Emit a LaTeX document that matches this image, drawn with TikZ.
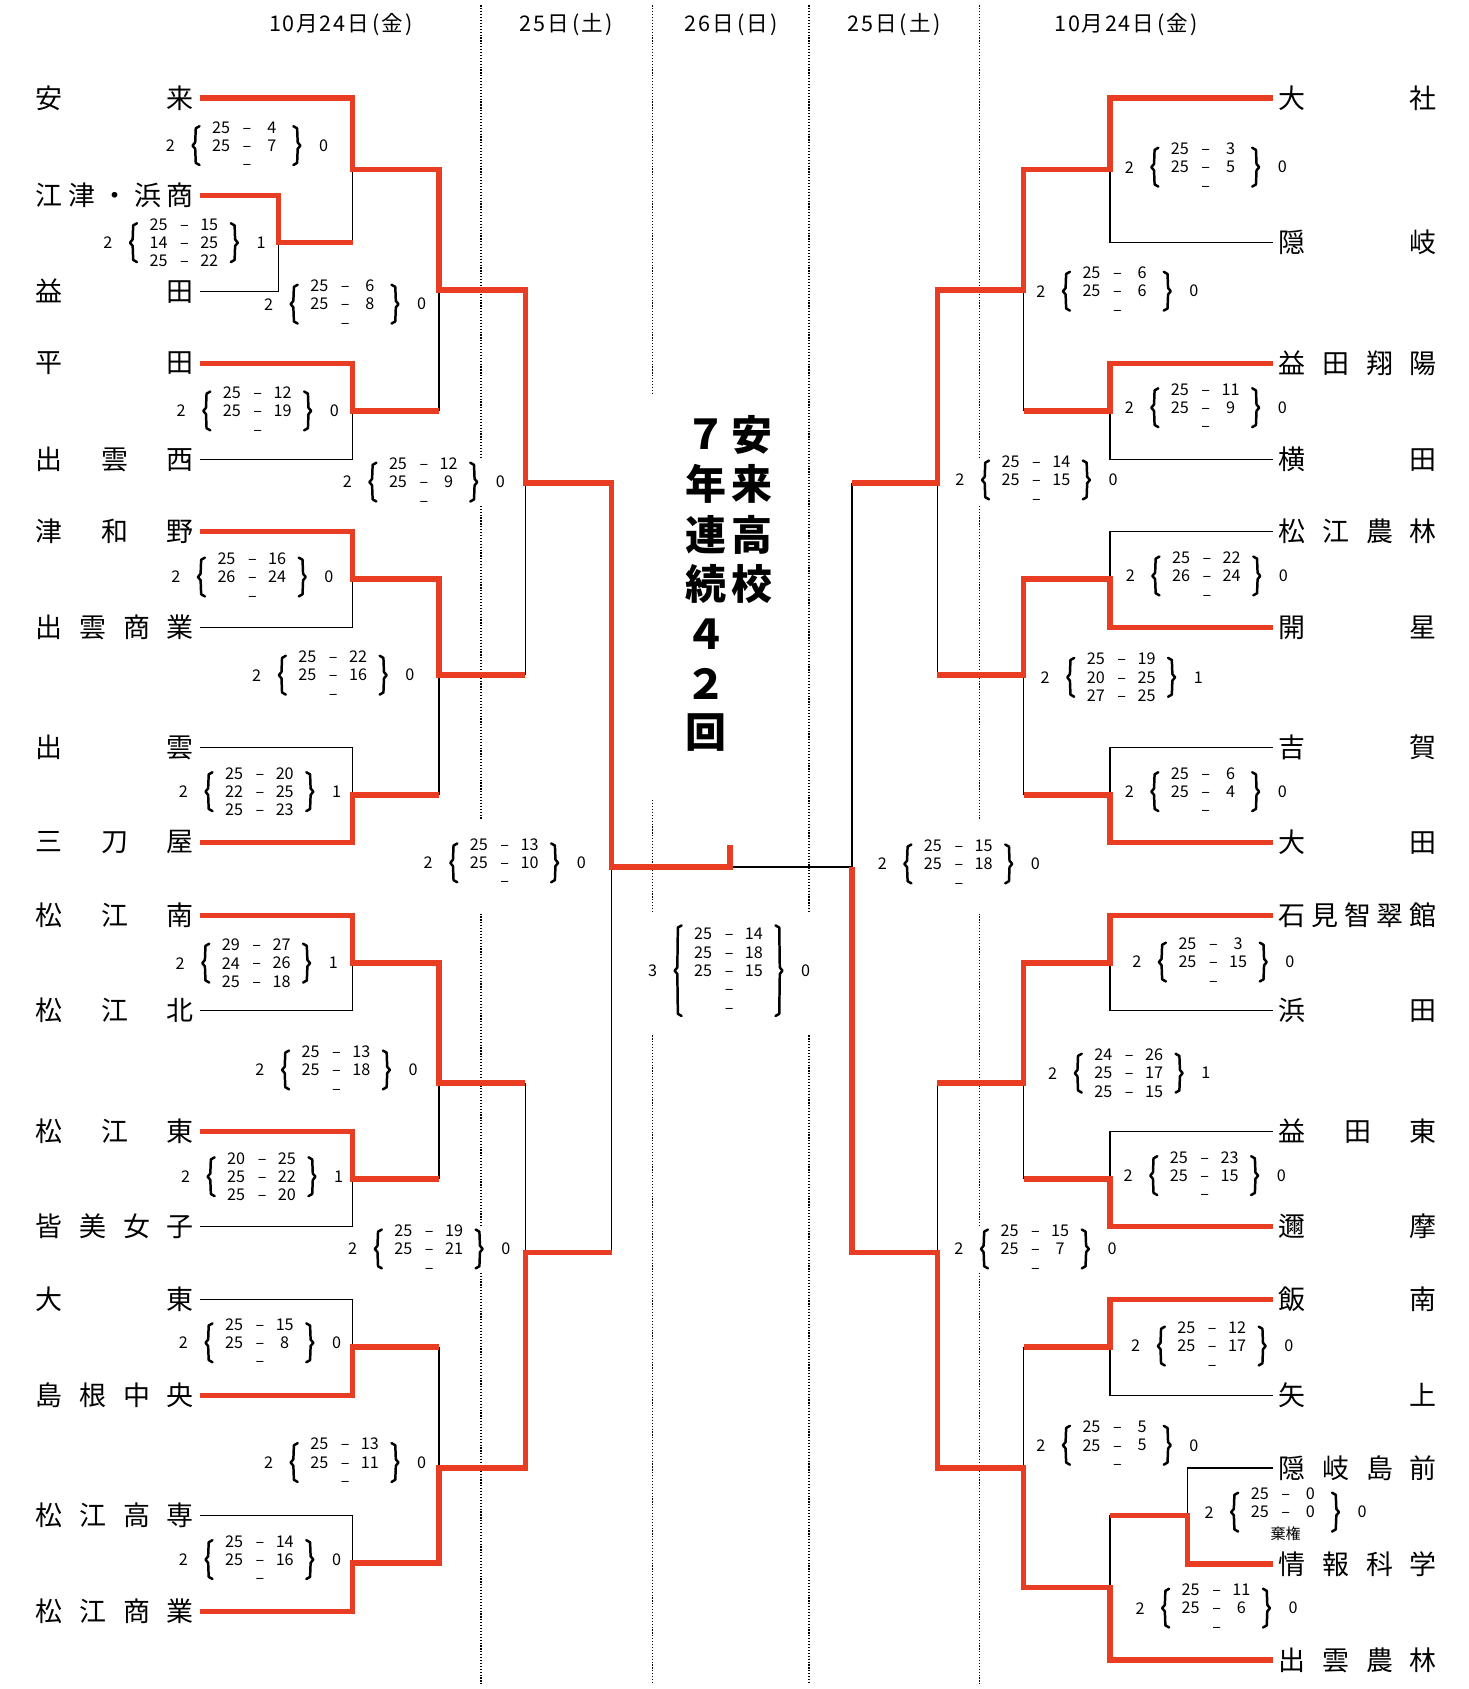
\documentclass[tikz,border=0pt]{standalone}
\usepackage{fontspec}
\setmainfont{Noto Sans CJK JP}
\definecolor{winred}{RGB}{232,60,35}
\tikzset{
  win/.style={draw=winred, line width=5pt, line join=miter},
  lose/.style={draw=black, line width=1.3pt},
  dotv/.style={draw=black, line width=1.1pt, dash pattern=on 1.1pt off 1.6pt},
  brc/.style={draw=black, line width=2.3pt, line join=round, line cap=round},
  tname/.style={inner sep=0pt, font=\fontsize{25}{25}\selectfont},
  snum/.style={inner sep=0pt, font=\fontsize{15}{15}\selectfont},
  hdr/.style={inner sep=0pt, font=\fontsize{20}{20}\selectfont},
  ttl/.style={inner sep=0pt, font=\fontsize{38}{38}\selectfont\bfseries},
}
\newcommand\kk{\kern1.6pt}
\newcommand\kiken{{\fontsize{14}{14}\selectfont 棄権}}
\newcommand\brL[3]{\draw[brc] ({#1+4},{#2-#3}) -- ({#1+0.5},{#2-#3+2}) -- ({#1},{#2-3}) -- ({#1-2.5},{#2}) -- ({#1},{#2+3}) -- ({#1+0.5},{#2+#3-2}) -- ({#1+4},{#2+#3});}
\newcommand\brR[3]{\draw[brc] ({#1-4},{#2-#3}) -- ({#1-0.5},{#2-#3+2}) -- ({#1},{#2-3}) -- ({#1+2.5},{#2}) -- ({#1},{#2+3}) -- ({#1-0.5},{#2+#3-2}) -- ({#1-4},{#2+#3});}
\newcommand\scoreblk[8]{%
  \node[snum] (#1L) at (#2,#3) {#4};
  \node[snum] (#1R) at ({#2+142},#3) {#5};
  \brL{#2+23}{#3}{#6}
  \brR{#2+118}{#3}{#6}
  \foreach \rA/\rD/\rB [count=\rI] in {#8} {
    \node[snum] (#1a\rI) at ({#2+47},{#3+(#7)+17*(\rI-1)}) {\rA};
    \node[snum] (#1d\rI) at ({#2+71},{#3+(#7)+17*(\rI-1)+3}) {\rD};
    \node[snum] (#1b\rI) at ({#2+94},{#3+(#7)+17*(\rI-1)}) {\rB};
  }%
}
\begin{document}
\begin{tikzpicture}[x=1pt,y={(0pt,-1pt)}]
\useasboundingbox[fill=white] (0,0) rectangle (1362,1566);

% dotted day separators
\draw[dotv] (446,5) -- (446,425) (446,469) -- (446,759) (446,847) -- (446,1136) (446,1180) -- (446,1562);
\draw[dotv] (605,5) -- (605,366) (605,742) -- (605,847) (605,960) -- (605,1562);
\draw[dotv] (750,5) -- (750,847) (750,960) -- (750,1562);
\draw[dotv] (908,5) -- (908,425) (908,469) -- (908,759) (908,847) -- (908,1136) (908,1180) -- (908,1562);

% headers
\node[hdr] (H1) at (316,23) {1\kk 0\kk 月\kk 2\kk 4\kk 日\kern3pt(\kern2pt金\kern2pt)};
\node[hdr] (H2) at (525,23) {2\kk 5\kk 日\kern3pt(\kern2pt土\kern2pt)};
\node[hdr] (H3) at (678,23) {2\kk 6\kk 日\kern3pt(\kern2pt日\kern2pt)};
\node[hdr] (H4) at (829,23) {2\kk 5\kk 日\kern3pt(\kern2pt土\kern2pt)};
\node[hdr] (H5) at (1044,23) {1\kk 0\kk 月\kk 2\kk 4\kk 日\kern3pt(\kern2pt金\kern2pt)};

% title
\node[ttl] (T1) at (655,403) {７};
\node[ttl] (T2) at (655,449) {年};
\node[ttl] (T3) at (655,496) {連};
\node[ttl] (T4) at (655,541) {続};
\node[ttl] (T5) at (655,588) {４};
\node[ttl] (T6) at (655,634) {２};
\node[ttl] (T7) at (655,679) {回};
\node[ttl] (T8) at (697,403) {安};
\node[ttl] (T9) at (697,449) {来};
\node[ttl] (T10) at (697,496) {高};
\node[ttl] (T11) at (697,541) {校};

% left team names
\node[tname, anchor=east] (L1) at (180,91) {\makebox[147pt]{安\hfill 来}};
\node[tname, anchor=east] (L2) at (180,181) {\makebox[147pt]{江\hfill 津\hfill ・\hfill 浜\hfill 商}};
\node[tname, anchor=east] (L3) at (180,270) {\makebox[147pt]{益\hfill 田}};
\node[tname, anchor=east] (L4) at (180,337) {\makebox[147pt]{平\hfill 田}};
\node[tname, anchor=east] (L5) at (180,426) {\makebox[147pt]{出\hfill 雲\hfill 西}};
\node[tname, anchor=east] (L6) at (180,493) {\makebox[147pt]{津\hfill 和\hfill 野}};
\node[tname, anchor=east] (L7) at (180,582) {\makebox[147pt]{出\hfill 雲\hfill 商\hfill 業}};
\node[tname, anchor=east] (L8) at (180,693) {\makebox[147pt]{出\hfill 雲}};
\node[tname, anchor=east] (L9) at (180,781) {\makebox[147pt]{三\hfill 刀\hfill 屋}};
\node[tname, anchor=east] (L10) at (180,849) {\makebox[147pt]{松\hfill 江\hfill 南}};
\node[tname, anchor=east] (L11) at (180,937) {\makebox[147pt]{松\hfill 江\hfill 北}};
\node[tname, anchor=east] (L12) at (180,1049) {\makebox[147pt]{松\hfill 江\hfill 東}};
\node[tname, anchor=east] (L13) at (180,1137) {\makebox[147pt]{皆\hfill 美\hfill 女\hfill 子}};
\node[tname, anchor=east] (L14) at (180,1205) {\makebox[147pt]{大\hfill 東}};
\node[tname, anchor=east] (L15) at (180,1294) {\makebox[147pt]{島\hfill 根\hfill 中\hfill 央}};
\node[tname, anchor=east] (L16) at (180,1405) {\makebox[147pt]{松\hfill 江\hfill 高\hfill 専}};
\node[tname, anchor=east] (L17) at (180,1494) {\makebox[147pt]{松\hfill 江\hfill 商\hfill 業}};

% right team names
\node[tname, anchor=west] (R1) at (1185,91) {\makebox[147pt]{大\hfill 社}};
\node[tname, anchor=west] (R2) at (1185,225) {\makebox[147pt]{隠\hfill 岐}};
\node[tname, anchor=west] (R3) at (1185,337) {\makebox[147pt]{益\hfill 田\hfill 翔\hfill 陽}};
\node[tname, anchor=west] (R4) at (1185,426) {\makebox[147pt]{横\hfill 田}};
\node[tname, anchor=west] (R5) at (1185,493) {\makebox[147pt]{松\hfill 江\hfill 農\hfill 林}};
\node[tname, anchor=west] (R6) at (1185,582) {\makebox[147pt]{開\hfill 星}};
\node[tname, anchor=west] (R7) at (1185,693) {\makebox[147pt]{吉\hfill 賀}};
\node[tname, anchor=west] (R8) at (1185,781) {\makebox[147pt]{大\hfill 田}};
\node[tname, anchor=west] (R9) at (1185,849) {\makebox[147pt]{石\hfill 見\hfill 智\hfill 翠\hfill 館}};
\node[tname, anchor=west] (R10) at (1185,937) {\makebox[147pt]{浜\hfill 田}};
\node[tname, anchor=west] (R11) at (1185,1049) {\makebox[147pt]{益\hfill 田\hfill 東}};
\node[tname, anchor=west] (R12) at (1185,1137) {\makebox[147pt]{邇\hfill 摩}};
\node[tname, anchor=west] (R13) at (1185,1205) {\makebox[147pt]{飯\hfill 南}};
\node[tname, anchor=west] (R14) at (1185,1294) {\makebox[147pt]{矢\hfill 上}};
\node[tname, anchor=west] (R15) at (1185,1361) {\makebox[147pt]{隠\hfill 岐\hfill 島\hfill 前}};
\node[tname, anchor=west] (R16) at (1185,1450) {\makebox[147pt]{情\hfill 報\hfill 科\hfill 学}};
\node[tname, anchor=west] (R17) at (1185,1539) {\makebox[147pt]{出\hfill 雲\hfill 農\hfill 林}};

% match joints, left
\coordinate (a1) at (258,225);
\coordinate (a2) at (327,157);
\coordinate (a3) at (327,381);
\coordinate (a4) at (327,537);
\coordinate (a5) at (327,737);
\coordinate (a6) at (327,893);
\coordinate (a7) at (327,1093);
\coordinate (a8) at (327,1249);
\coordinate (a9) at (327,1449);
\coordinate (b1) at (407,269);
\coordinate (b2) at (407,626);
\coordinate (b3) at (407,1004);
\coordinate (b4) at (407,1361);
\coordinate (c1) at (487,448);
\coordinate (c2) at (487,1161);
\coordinate (d1) at (567,804);
\coordinate (fin) at (677,804);
\coordinate (finT) at (677,783);
% match joints, right
\coordinate (ra1) at (1101,1405);
\coordinate (ra2) at (1029,157);
\coordinate (ra3) at (1029,381);
\coordinate (ra4) at (1029,537);
\coordinate (ra5) at (1029,737);
\coordinate (ra6) at (1029,893);
\coordinate (ra7) at (1029,1093);
\coordinate (ra8) at (1029,1249);
\coordinate (ra9) at (1029,1472);
\coordinate (rb1) at (949,269);
\coordinate (rb2) at (949,626);
\coordinate (rb3) at (949,1004);
\coordinate (rb4) at (949,1361);
\coordinate (rc1) at (869,448);
\coordinate (rc2) at (869,1161);
\coordinate (rd1) at (790,804);

% losing lines, left
\draw[lose] ([xshift=5pt]L3.east) -| (a1);
\draw[lose] (a2) -- (a1 -| a2);
\draw[lose] ([xshift=5pt]L5.east) -| (a3);
\draw[lose] (b1) -- (a3 -| b1);
\draw[lose] ([xshift=5pt]L7.east) -| (a4);
\draw[lose] ([xshift=5pt]L8.east) -| (a5);
\draw[lose] (b2) -- (a5 -| b2);
\draw[lose] (c1) -- (b2 -| c1);
\draw[lose] ([xshift=5pt]L11.east) -| (a6);
\draw[lose] ([xshift=5pt]L13.east) -| (a7);
\draw[lose] (b3) -- (a7 -| b3);
\draw[lose] ([xshift=5pt]L14.east) -| (a8);
\draw[lose] ([xshift=5pt]L16.east) -| (a9);
\draw[lose] (a8 -| b4) -- (b4);
\draw[lose] (b3 -| c2) -- (c2);
\draw[lose] (d1) -- (c2 -| d1);
\draw[lose] (fin) -- (rd1);
% losing lines, right
\draw[lose] ([xshift=-5pt]R2.west) -| (ra2);
\draw[lose] ([xshift=-5pt]R4.west) -| (ra3);
\draw[lose] (rb1) -- (ra3 -| rb1);
\draw[lose] ([xshift=-5pt]R5.west) -| (ra4);
\draw[lose] ([xshift=-5pt]R7.west) -| (ra5);
\draw[lose] (rb2) -- (ra5 -| rb2);
\draw[lose] (rc1) -- (rb2 -| rc1);
\draw[lose] (rc1 -| rd1) -- (rd1);
\draw[lose] ([xshift=-5pt]R10.west) -| (ra6);
\draw[lose] ([xshift=-5pt]R11.west) -| (ra7);
\draw[lose] (rb3) -- (ra7 -| rb3);
\draw[lose] (rb3 -| rc2) -- (rc2);
\draw[lose] ([xshift=-5pt]R14.west) -| (ra8);
\draw[lose] ([xshift=-5pt]R15.west) -| (ra1);
\draw[lose] (ra1 -| ra9) -- (ra9);
\draw[lose] (ra8 -| rb4) -- (rb4);

% winning lines, left
\draw[win] ([xshift=5pt]L1.east) -| (a2) -| (b1) -| (c1) -| (d1) -| (finT);
\draw[win] ([xshift=5pt]L2.east) -| (a1) -- (a1 -| a2);
\draw[win] ([xshift=5pt]L4.east) -| (a3) -- (a3 -| b1);
\draw[win] ([xshift=5pt]L6.east) -| (a4) -| (b2) -- (b2 -| c1);
\draw[win] ([xshift=5pt]L9.east) -| (a5) -- (a5 -| b2);
\draw[win] ([xshift=5pt]L10.east) -| (a6) -| (b3) -- (b3 -| c2);
\draw[win] ([xshift=5pt]L12.east) -| (a7) -- (a7 -| b3);
\draw[win] ([xshift=5pt]L15.east) -| (a8) -- (a8 -| b4);
\draw[win] ([xshift=5pt]L17.east) -| (a9) -| (b4) -| (c2) -- (c2 -| d1);
% winning lines, right
\draw[win] ([xshift=-5pt]R1.west) -| (ra2) -| (rb1) -| (rc1) -- (rc1 -| rd1);
\draw[win] ([xshift=-5pt]R3.west) -| (ra3) -- (ra3 -| rb1);
\draw[win] ([xshift=-5pt]R6.west) -| (ra4) -| (rb2) -- (rb2 -| rc1);
\draw[win] ([xshift=-5pt]R8.west) -| (ra5) -- (ra5 -| rb2);
\draw[win] ([xshift=-5pt]R9.west) -| (ra6) -| (rb3) -- (rb3 -| rc2);
\draw[win] ([xshift=-5pt]R12.west) -| (ra7) -- (ra7 -| rb3);
\draw[win] ([xshift=-5pt]R13.west) -| (ra8) -- (ra8 -| rb4);
\draw[win] ([xshift=-5pt]R16.west) -| (ra1) -- (ra1 -| ra9);
\draw[win] ([xshift=-5pt]R17.west) -| (ra9) -| (rb4) -| (rc2) -| (rd1);

% scores, left
\scoreblk{S1}{158}{135}{2}{0}{18}{-17}{25/–/4,25/–/7,/–/}
\scoreblk{S2}{100}{225}{2}{1}{18}{-17}{25/–/15,14/–/25,25/–/22}
\scoreblk{S3}{249}{282}{2}{0}{18}{-17}{25/–/6,25/–/8,/–/}
\scoreblk{S4}{168}{381}{2}{0}{18}{-17}{25/–/12,25/–/19,/–/}
\scoreblk{S5}{322}{447}{2}{0}{18}{-17}{25/–/12,25/–/9,/–/}
\scoreblk{S6}{163}{535}{2}{0}{18}{-17}{25/–/16,26/–/24,/–/}
\scoreblk{S7}{238}{626}{2}{0}{18}{-17}{25/–/22,25/–/16,/–/}
\scoreblk{S8}{170}{734}{2}{1}{18}{-17}{25/–/20,22/–/25,25/–/23}
\scoreblk{S9}{397}{800}{2}{0}{18}{-17}{25/–/13,25/–/10,/–/}
\scoreblk{S10}{167}{893}{2}{1}{18}{-17}{29/–/27,24/–/26,25/–/18}
\scoreblk{S11}{241}{992}{2}{0}{18}{-17}{25/–/13,25/–/18,/–/}
\scoreblk{S12}{172}{1091}{2}{1}{18}{-17}{20/–/25,25/–/22,25/–/20}
\scoreblk{S13}{327}{1158}{2}{0}{18}{-17}{25/–/19,25/–/21,/–/}
\scoreblk{S14}{170}{1245}{2}{0}{18}{-17}{25/–/15,25/–/8,/–/}
\scoreblk{S15}{249}{1356}{2}{0}{18}{-17}{25/–/13,25/–/11,/–/}
\scoreblk{S16}{170}{1446}{2}{0}{18}{-17}{25/–/14,25/–/16,/–/}
% final
\scoreblk{F}{605}{900}{3}{0}{42}{-34}{25/–/14,25/–/18,25/–/15,/–/,/–/}
% scores, right
\scoreblk{Q1}{1047}{155}{2}{0}{18}{-17}{25/–/3,25/–/5,/–/}
\scoreblk{Q2}{965}{270}{2}{0}{18}{-17}{25/–/6,25/–/6,/–/}
\scoreblk{Q3}{1047}{378}{2}{0}{18}{-17}{25/–/11,25/–/9,/–/}
\scoreblk{Q4}{890}{445}{2}{0}{18}{-17}{25/–/14,25/–/15,/–/}
\scoreblk{Q5}{1048}{534}{2}{0}{18}{-17}{25/–/22,26/–/24,/–/}
\scoreblk{Q6}{969}{628}{2}{1}{18}{-17}{25/–/19,20/–/25,27/–/25}
\scoreblk{Q7}{1047}{734}{2}{0}{18}{-17}{25/–/6,25/–/4,/–/}
\scoreblk{Q8}{818}{801}{2}{0}{18}{-17}{25/–/15,25/–/18,/–/}
\scoreblk{Q9}{1054}{892}{2}{0}{18}{-17}{25/–/3,25/–/15,/–/}
\scoreblk{Q10}{976}{995}{2}{1}{18}{-17}{24/–/26,25/–/17,25/–/15}
\scoreblk{Q11}{1046}{1090}{2}{0}{18}{-17}{25/–/23,25/–/15,/–/}
\scoreblk{Q12}{889}{1158}{2}{0}{18}{-17}{25/–/15,25/–/7,/–/}
\scoreblk{Q13}{1053}{1248}{2}{0}{18}{-17}{25/–/12,25/–/17,/–/}
\scoreblk{Q14}{965}{1340}{2}{0}{18}{-17}{25/–/5,25/–/5,/–/}
\scoreblk{Q15}{1121}{1402}{2}{0}{18}{-17}{25/–/0,25/–/0,/\kiken/}
\scoreblk{Q16}{1057}{1491}{2}{0}{18}{-17}{25/–/11,25/–/6,/–/}
\end{tikzpicture}
\end{document}
